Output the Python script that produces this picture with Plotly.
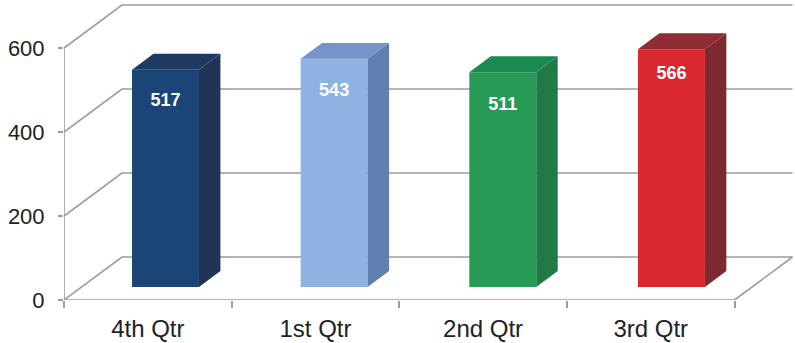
import plotly.graph_objects as go

categories = ["4th Qtr", "1st Qtr", "2nd Qtr", "3rd Qtr"]
values = [517, 543, 511, 566]
y_ticks = [0, 200, 400, 600]
label_drop = [76, 78, 78, 60]
front_colors = ["#1c4577", "#8db3e2", "#279a55", "#d9282f"]
side_colors = ["#1f3553", "#5f7fb0", "#1f7a47", "#7c2a30"]
top_colors = ["#1f3a62", "#7595c8", "#188a52", "#8e2d33"]

W, H = 795, 343
ML, MB = 63.5, 43
PX_PER_X, PX_PER_Y = 167.75, 0.42
WALL_X = 58 / PX_PER_X
WALL_Y = 43 / PX_PER_Y
X_RANGE = [0, (W - ML) / PX_PER_X]
Y_RANGE = [0, (H - MB) / PX_PER_Y]
BAR_W = 67 / PX_PER_X
Z_FRONT, Z_DEPTH = 0.305, 0.37
GRID = "#9c9c9c"
TEXT = "#1d2226"
FONT = "Liberation Sans, Arial, sans-serif"

fig = go.Figure()

# Floor, side wall and back wall lines live on the lower axes.
for t in y_ticks:
    fig.add_trace(go.Scatter(
        x=[0, WALL_X, 4 + WALL_X], y=[t, t + WALL_Y, t + WALL_Y],
        mode="lines", line=dict(color=GRID, width=1.6), hoverinfo="skip"))
for xs, ys in (([0, 0], [0, y_ticks[-1]]), ([0, 4, 4 + WALL_X], [0, 0, WALL_Y])):
    fig.add_trace(go.Scatter(x=xs, y=ys, mode="lines",
                             line=dict(color=GRID, width=1.6), hoverinfo="skip"))

centers = [0.5 + 1.006 * i + Z_FRONT * WALL_X for i in range(len(values))]
base = Z_FRONT * WALL_Y
dx, dy = Z_DEPTH * WALL_X, Z_DEPTH * WALL_Y

fig.add_trace(go.Bar(x=centers, y=values, base=base, width=BAR_W,
                     marker=dict(color=front_colors, line_width=0),
                     xaxis="x2", yaxis="y2", hoverinfo="skip"))
for c, v, sc, tc in zip(centers, values, side_colors, top_colors):
    r, l = c + BAR_W / 2, c - BAR_W / 2
    top = base + v
    fig.add_trace(go.Scatter(
        x=[r, r + dx, r + dx, r, r], y=[base, base + dy, top + dy, top, base],
        fill="toself", fillcolor=sc, mode="lines", line_width=0,
        xaxis="x2", yaxis="y2", hoverinfo="skip"))
    fig.add_trace(go.Scatter(
        x=[l, l + dx, r + dx, r, l], y=[top, top + dy, top + dy, top, top],
        fill="toself", fillcolor=tc, mode="lines", line_width=0,
        xaxis="x2", yaxis="y2", hoverinfo="skip"))
fig.add_trace(go.Scatter(
    x=centers, y=[base + v - d for v, d in zip(values, label_drop)],
    text=[str(v) for v in values], mode="text",
    textfont=dict(color="white", size=18, family=FONT, weight="bold"),
    xaxis="x2", yaxis="y2", hoverinfo="skip"))

fig.update_layout(
    width=W, height=H, autosize=False, showlegend=False,
    margin=dict(l=ML, r=0, t=0, b=MB, pad=0),
    paper_bgcolor="white", plot_bgcolor="white", barmode="overlay",
    font=dict(family=FONT, color=TEXT),
    xaxis=dict(range=X_RANGE, showgrid=False, zeroline=False, showline=False,
               tickmode="array", tickvals=[i + 0.5 for i in range(4)], ticktext=categories,
               ticks="", tickfont=dict(size=24), ticklabelstandoff=12, fixedrange=True),
    yaxis=dict(range=Y_RANGE, showgrid=False, zeroline=False, showline=False,
               tickmode="array", tickvals=y_ticks, ticks="outside", ticklen=5, tickwidth=1.6,
               tickcolor=GRID, tickfont=dict(size=22), ticklabelstandoff=9, fixedrange=True),
    xaxis2=dict(range=X_RANGE, overlaying="x", anchor="y2", showgrid=False, zeroline=False,
                showline=False, tickmode="array", tickvals=[0, 1, 2, 3, 4], showticklabels=False,
                ticks="outside", ticklen=7, tickwidth=1.6, tickcolor=GRID, fixedrange=True),
    yaxis2=dict(range=Y_RANGE, overlaying="y", anchor="x2", showgrid=False, zeroline=False,
                showline=False, showticklabels=False, ticks="", fixedrange=True),
)
fig.write_html("out.html", config=dict(displayModeBar=False),
               post_script="document.body.style.margin='0';document.documentElement.style.overflow='hidden';")
